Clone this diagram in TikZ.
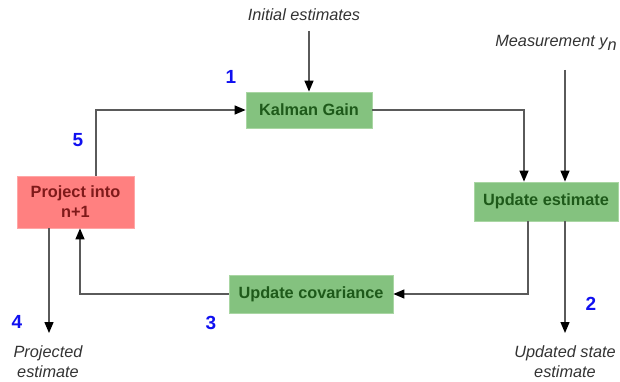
\documentclass[tikz,border=0pt]{standalone}
\usepackage{fontspec}
\setmainfont{Liberation Sans}
\usetikzlibrary{arrows.meta}
\definecolor{boxgreen}{HTML}{84C27F}
\definecolor{boxgreenborder}{HTML}{A9D6A3}
\definecolor{textgreen}{HTML}{1E5A1A}
\definecolor{boxred}{HTML}{FF8080}
\definecolor{boxredborder}{HTML}{FFA6A6}
\definecolor{textred}{HTML}{7F1A1A}
\definecolor{linegray}{HTML}{5A5A5A}
\definecolor{numblue}{HTML}{1010F0}
\definecolor{labelgray}{HTML}{333333}
\tikzset{
  gbox/.style={draw=boxgreenborder, line width=0.8pt, fill=boxgreen, text=textgreen,
    font=\fontsize{16.3}{19}\selectfont\bfseries, inner sep=0pt, align=center},
  rbox/.style={draw=boxredborder, line width=0.8pt, fill=boxred, text=textred,
    font=\fontsize{16.3}{20}\selectfont\bfseries, inner sep=0pt, align=center},
  arr/.style={draw=linegray, line width=1.3pt,
    -{Triangle[length=11pt,width=9pt,color=black]}},
  lbl/.style={text=labelgray, font=\fontsize{16.3}{20}\selectfont\itshape, align=center, inner sep=0pt},
  num/.style={text=numblue, font=\fontsize{19}{20}\selectfont\bfseries, inner sep=0pt}
}
\begin{document}
\begin{tikzpicture}[x=1pt,y=-1pt]
\useasboundingbox (0,0) rectangle (620,382);

% boxes
\node[gbox, minimum width=126pt, minimum height=36pt] (kg) at (309,110) {Kalman Gain};
\node[gbox, minimum width=144pt, minimum height=39pt] (ue) at (546,201.5) {Update estimate};
\node[gbox, minimum width=164pt, minimum height=38pt] (uc) at (311,294) {Update covariance};
\node[rbox, minimum width=117pt, minimum height=52pt] (pr) at (75.5,202) {Project into\\n+1};

% labels
\node[lbl] (ie) at (304,15) {Initial estimates};
\node[lbl] (ms) at (556,43) {Measurement y\raisebox{-0.45ex}{n}};
\node[lbl] (pe) at (48,362) {Projected\\estimate};
\node[lbl] (us) at (565,362) {Updated state\\estimate};

% numbers
\node[num] (n1) at (231,77) {1};
\node[num] (n2) at (591,304) {2};
\node[num] (n3) at (211,323) {3};
\node[num] (n4) at (17,322) {4};
\node[num] (n5) at (78,140) {5};

% free ends
\coordinate (ie0) at (309,31);
\coordinate (ms0) at (565,70);
\coordinate (pe0) at (49,333);
\coordinate (us0) at (565,333);

% connectors
\draw[arr] (ie0) -- (kg.north);
\draw[arr] (ms0) -- (ms0 |- ue.north);
\draw[arr] (kg.east) -| ([xshift=-22pt]ue.north);
\draw[arr] ([xshift=-18pt]ue.south) |- (uc.east);
\draw[arr] (uc.west) -| ([xshift=4.5pt]pr.south);
\draw[arr] ([xshift=20.5pt]pr.north) |- (kg.west);
\draw[arr] ([xshift=-26.5pt]pr.south) -- (pe0);
\draw[arr] ([xshift=19pt]ue.south) -- (us0);
\end{tikzpicture}
\end{document}
